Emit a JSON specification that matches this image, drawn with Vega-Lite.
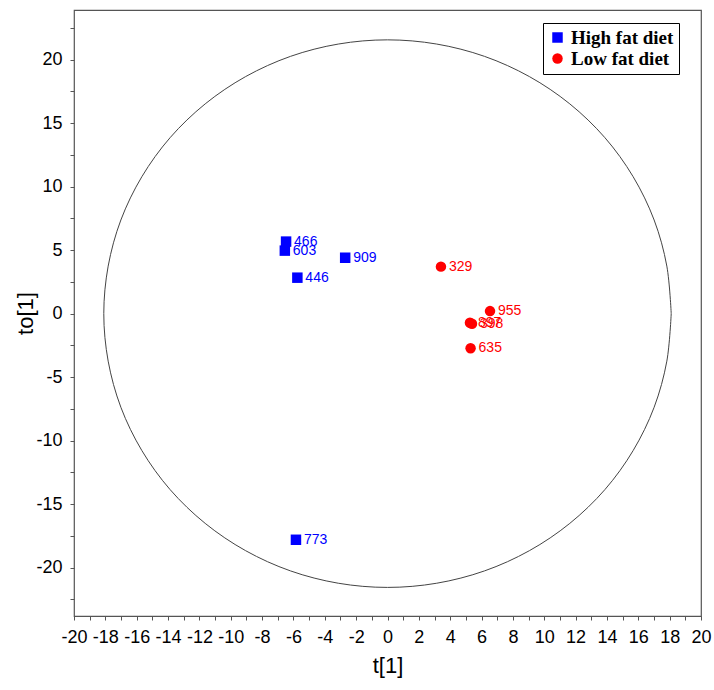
{
  "$schema": "https://vega.github.io/schema/vega-lite/v6.json",
  "width": 627,
  "height": 606,
  "autosize": {"type": "none"},
  "padding": {"left": 74, "top": 10, "right": 13, "bottom": 74},
  "background": "white",
  "config": {
    "view": {"stroke": "#555", "strokeWidth": 1.2},
    "axis": {"grid": false, "domain": false, "labelFont": "Liberation Sans", "titleFont": "Liberation Sans", "labelColor": "#000", "titleColor": "#000", "tickColor": "#555", "labelFontSize": 18, "titleFontSize": 22, "titleFontWeight": "normal", "tickSize": 4}
  },
  "datasets": {
    "pts": [
      {"id": "466", "t": -6.47, "to": 5.67, "group": "High fat diet"},
      {"id": "603", "t": -6.55, "to": 4.96, "group": "High fat diet"},
      {"id": "909", "t": -2.7, "to": 4.4, "group": "High fat diet"},
      {"id": "446", "t": -5.75, "to": 2.83, "group": "High fat diet"},
      {"id": "773", "t": -5.84, "to": -17.8, "group": "High fat diet"},
      {"id": "329", "t": 3.41, "to": 3.7, "group": "Low fat diet"},
      {"id": "955", "t": 6.54, "to": 0.2, "group": "Low fat diet"},
      {"id": "897", "t": 5.26, "to": -0.72, "group": "Low fat diet"},
      {"id": "398", "t": 5.39, "to": -0.8, "group": "Low fat diet"},
      {"id": "635", "t": 5.3, "to": -2.72, "group": "Low fat diet"}
    ],
    "ellipse": [
      {"k": 0, "x": 18.1, "y": 0},
      {"k": 1, "x": 17.82, "y": 3.74},
      {"k": 2, "x": 17.01, "y": 7.37},
      {"k": 3, "x": 15.67, "y": 10.78},
      {"k": 4, "x": 13.87, "y": 13.85},
      {"k": 5, "x": 11.63, "y": 16.51},
      {"k": 6, "x": 9.05, "y": 18.66},
      {"k": 7, "x": 6.19, "y": 20.25},
      {"k": 8, "x": 3.14, "y": 21.22},
      {"k": 9, "x": 0, "y": 21.55},
      {"k": 10, "x": -3.14, "y": 21.22},
      {"k": 11, "x": -6.19, "y": 20.25},
      {"k": 12, "x": -9.05, "y": 18.66},
      {"k": 13, "x": -11.63, "y": 16.51},
      {"k": 14, "x": -13.87, "y": 13.85},
      {"k": 15, "x": -15.67, "y": 10.78},
      {"k": 16, "x": -17.01, "y": 7.37},
      {"k": 17, "x": -17.82, "y": 3.74},
      {"k": 18, "x": -18.1, "y": 0},
      {"k": 19, "x": -17.82, "y": -3.74},
      {"k": 20, "x": -17.01, "y": -7.37},
      {"k": 21, "x": -15.67, "y": -10.78},
      {"k": 22, "x": -13.87, "y": -13.85},
      {"k": 23, "x": -11.63, "y": -16.51},
      {"k": 24, "x": -9.05, "y": -18.66},
      {"k": 25, "x": -6.19, "y": -20.25},
      {"k": 26, "x": -3.14, "y": -21.22},
      {"k": 27, "x": 0, "y": -21.55},
      {"k": 28, "x": 3.14, "y": -21.22},
      {"k": 29, "x": 6.19, "y": -20.25},
      {"k": 30, "x": 9.05, "y": -18.66},
      {"k": 31, "x": 11.63, "y": -16.51},
      {"k": 32, "x": 13.87, "y": -13.85},
      {"k": 33, "x": 15.67, "y": -10.78},
      {"k": 34, "x": 17.01, "y": -7.37},
      {"k": 35, "x": 17.82, "y": -3.74},
      {"k": 36, "x": 18.1, "y": 0}
    ]
  },
  "layer": [
    {
      "data": {"name": "ellipse"},
      "mark": {"type": "line", "color": "#444", "strokeWidth": 1, "interpolate": "cardinal"},
      "encoding": {
        "x": {"field": "x", "type": "quantitative", "scale": {"domain": [-20, 20], "nice": false, "zero": false},
          "axis": {"values": [-20,-19,-18,-17,-16,-15,-14,-13,-12,-11,-10,-9,-8,-7,-6,-5,-4,-3,-2,-1,0,1,2,3,4,5,6,7,8,9,10,11,12,13,14,15,16,17,18,19,20], "tickCount": 200,
            "labelExpr": "datum.value % 2 == 0 ? '' + datum.value : ''", "labelOverlap": false, "labelFlush": false, "labelBound": false, "title": "t[1]", "labelPadding": 8, "titlePadding": 9}},
        "y": {"field": "y", "type": "quantitative", "scale": {"domain": [-23.8, 23.9], "nice": false, "zero": false},
          "axis": {"values": [-22.5,-20,-17.5,-15,-12.5,-10,-7.5,-5,-2.5,0,2.5,5,7.5,10,12.5,15,17.5,20,22.5], "tickCount": 200,
            "labelExpr": "datum.value % 5 == 0 ? '' + datum.value : ''", "labelOverlap": false, "labelFlush": false, "labelBound": false, "title": "to[1]", "labelPadding": 8, "titlePadding": -2}},
        "order": {"field": "k", "type": "quantitative"}
      }
    },
    {
      "mark": {"type": "rule", "color": "#444", "strokeWidth": 1.2},
      "encoding": {"x": {"datum": 0, "type": "quantitative"}}
    },
    {
      "mark": {"type": "rule", "color": "#444", "strokeWidth": 1.2},
      "encoding": {"y": {"datum": 0, "type": "quantitative"}}
    },
    {
      "data": {"name": "pts"},
      "mark": {"type": "point", "filled": true, "opacity": 1, "size": 110},
      "encoding": {
        "x": {"field": "t", "type": "quantitative"},
        "y": {"field": "to", "type": "quantitative"},
        "color": {"field": "group", "type": "nominal", "scale": {"domain": ["High fat diet", "Low fat diet"], "range": ["#0000ff", "#ff0000"]},
          "legend": {"title": null, "orient": "none", "legendX": 469, "legendY": 13, "fillColor": "white", "strokeColor": "#000", "padding": 5,
            "labelFont": "Liberation Serif", "labelFontSize": 19, "labelFontWeight": "bold", "labelColor": "#000", "symbolSize": 110, "rowPadding": 1, "symbolStrokeWidth": 0}},
        "shape": {"field": "group", "type": "nominal", "scale": {"domain": ["High fat diet", "Low fat diet"], "range": ["square", "circle"]}}
      }
    },
    {
      "data": {"name": "pts"},
      "mark": {"type": "text", "align": "left", "baseline": "middle", "dx": 8, "font": "Liberation Sans", "fontSize": 14},
      "encoding": {
        "x": {"field": "t", "type": "quantitative"},
        "y": {"field": "to", "type": "quantitative"},
        "text": {"field": "id"},
        "color": {"field": "group", "type": "nominal", "legend": null}
      }
    }
  ]
}
